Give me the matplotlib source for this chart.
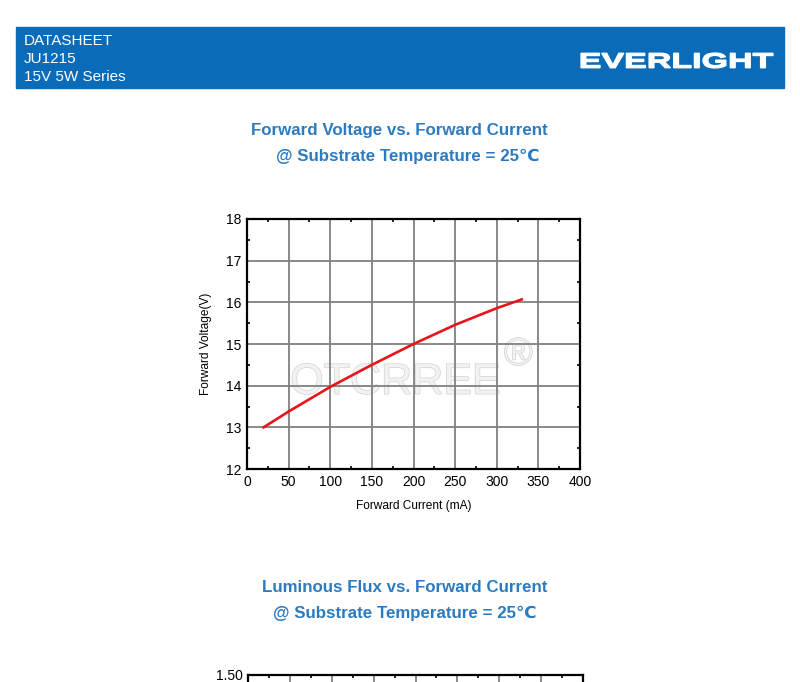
import matplotlib
matplotlib.use("Agg")
import matplotlib.pyplot as plt
from matplotlib.patches import Rectangle, PathPatch
from matplotlib.textpath import TextPath
from matplotlib.font_manager import FontProperties
from matplotlib.transforms import Affine2D
import matplotlib.patheffects as pe
import numpy as np

# ---- data ----
current_ma = [20, 50, 100, 150, 200, 250, 300, 330]
voltage_v = [13.0, 13.38, 13.97, 14.50, 15.0, 15.46, 15.86, 16.07]
x_ticks = [0, 50, 100, 150, 200, 250, 300, 350, 400]
y_ticks = [12, 13, 14, 15, 16, 17, 18]
flux_ticks = [0.0, 0.25, 0.50, 0.75, 1.00, 1.25, 1.50]

header_lines = ["DATASHEET", "JU1215", "15V 5W Series"]
brand = "EVERLIGHT"
title1 = ["Forward Voltage vs. Forward Current", "@ Substrate Temperature = 25\u2103"]
title2 = ["Luminous Flux vs. Forward Current", "@ Substrate Temperature = 25\u2103"]

W, H = 800, 682
fig = plt.figure(figsize=(W / 100, H / 100), dpi=100)
FAM = ["Liberation Sans", "DejaVu Sans"]
plt.rcParams["font.family"] = FAM

def fx(px):
    return px / W

def fy(py):
    return 1 - py / H

# header band
fig.patches.append(Rectangle((fx(16), fy(88)), fx(784) - fx(16), fy(27) - fy(88),
                             transform=fig.transFigure, color="#0A6BB8", zorder=0))
for i, t in enumerate(header_lines):
    fig.text(fx(24), fy(41 + 18 * i), t, color="white", fontsize=11,
             va="center", ha="left")

# brand text, stretched to the logo box (pixels)
tp = TextPath((0, 0), brand, size=20,
              prop=FontProperties(family="Liberation Sans", weight="bold"))
bb = tp.get_extents()
x0, x1, ytop, ybot = 581, 773, 53, 68
sx = (x1 - x0) / bb.width
sy = (ybot - ytop) / bb.height
tr = (Affine2D().translate(-bb.x0, -bb.y0).scale(sx, sy)
      .translate(x0, H - ybot))
logo = PathPatch(tr.transform_path(tp), facecolor="white", edgecolor="white",
                 linewidth=0.9, transform=None)
fig.patches.append(logo)

TITLE_C = "#2C7BC0"
kw = dict(color=TITLE_C, fontsize=12.2, fontweight="bold", ha="center", va="center")
fig.text(fx(399), fy(130), title1[0], **kw)
fig.text(fx(408), fy(156), title1[1], **kw)
fig.text(fx(405), fy(587), title2[0], **kw)
fig.text(fx(405), fy(613), title2[1], **kw)

def style_axes(ax):
    ax.grid(True, color="#808080", linewidth=1.3)
    ax.set_axisbelow(True)
    for s in ax.spines.values():
        s.set_linewidth(1.6)
        s.set_color("black")
    ax.tick_params(which="major", direction="in", length=0, labelsize=10, pad=4)
    ax.tick_params(which="minor", direction="in", length=2.5, width=1.2,
                   top=True, right=True)

# ---- chart 1 ----
ax = fig.add_axes([fx(247), fy(469), fx(580) - fx(247), fy(219) - fy(469)])
ax.plot(current_ma, voltage_v, color="#E8141B", linewidth=1.9, zorder=3)
ax.set_xlim(0, 400)
ax.set_ylim(12, 18)
ax.set_xticks(x_ticks)
ax.set_yticks(y_ticks)
ax.set_xticks(np.arange(25, 400, 50), minor=True)
ax.set_yticks(np.arange(12.5, 18, 1), minor=True)
style_axes(ax)
ax.set_xlabel("Forward Current (mA)", fontsize=8.6, labelpad=8)
ax.set_ylabel("Forward Voltage(V)", fontsize=8.6, labelpad=10)

# watermark (faint, under the grid)
wm_fx = [pe.Stroke(linewidth=1.0, foreground="#D2D2D2"), pe.Normal()]
ax.text(0.445, 0.345, "OTCRREE", transform=ax.transAxes, fontsize=31,
        color="#F2F2F2", ha="center", va="center", zorder=0.3, path_effects=wm_fx)
ax.text(0.815, 0.456, "\u00ae", transform=ax.transAxes, fontsize=28,
        color="#F2F2F2", ha="center", va="center", zorder=0.3, path_effects=wm_fx)

# ---- chart 2 (only its top edge falls inside the page) ----
ax2 = fig.add_axes([fx(248), fy(675) - 0.37, fx(583) - fx(248), 0.37])
ax2.set_xlim(0, 400)
ax2.set_ylim(0, 1.5)
ax2.set_xticks(x_ticks)
ax2.set_yticks(flux_ticks)
ax2.set_yticklabels(["" if v != 1.5 else "%.2f" % v for v in flux_ticks])
ax2.set_xticklabels([])
ax2.set_xticks(np.arange(25, 400, 50), minor=True)
style_axes(ax2)

fig.savefig("out.png", dpi=100)
